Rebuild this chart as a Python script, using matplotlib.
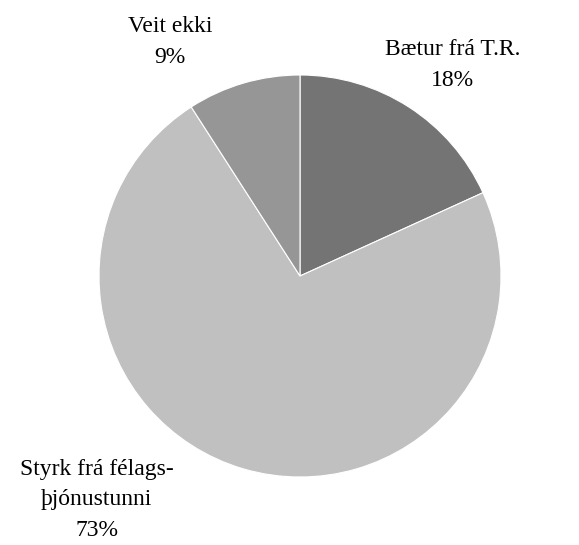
import matplotlib.pyplot as plt

labels = ["Bætur frá T.R.\n18%", "Styrk frá félags-\nþjónustunni\n73%", "Veit ekki\n9%"]
values = [18.2, 72.7, 9.1]
colors = ["#747474", "#c0c0c0", "#969696"]
label_pos = [(0.76, 1.05), (-1.01, -1.114), (-0.647, 1.164)]

plt.rcParams["font.family"] = ["Liberation Serif", "DejaVu Serif"]

fig = plt.figure(figsize=(5.79, 5.45), dpi=100)
ax = fig.add_axes([0, 0, 1, 1])

# pie centre sits at pixel (300, 276), radius ~201 px
cx, cy, r = 300, 276, 201
ax.pie(values, colors=colors, startangle=90, counterclock=False, radius=1,
       wedgeprops=dict(edgecolor="white", linewidth=0.8))

for lab, (x, y) in zip(labels, label_pos):
    ax.text(x, y, lab, ha="center", va="center", fontsize=17, linespacing=1.6)

ax.set_xlim(-cx / r, (579 - cx) / r)
ax.set_ylim(-(545 - cy) / r, cy / r)
ax.set_aspect("auto")
ax.axis("off")

fig.savefig("out.png", dpi=100)
